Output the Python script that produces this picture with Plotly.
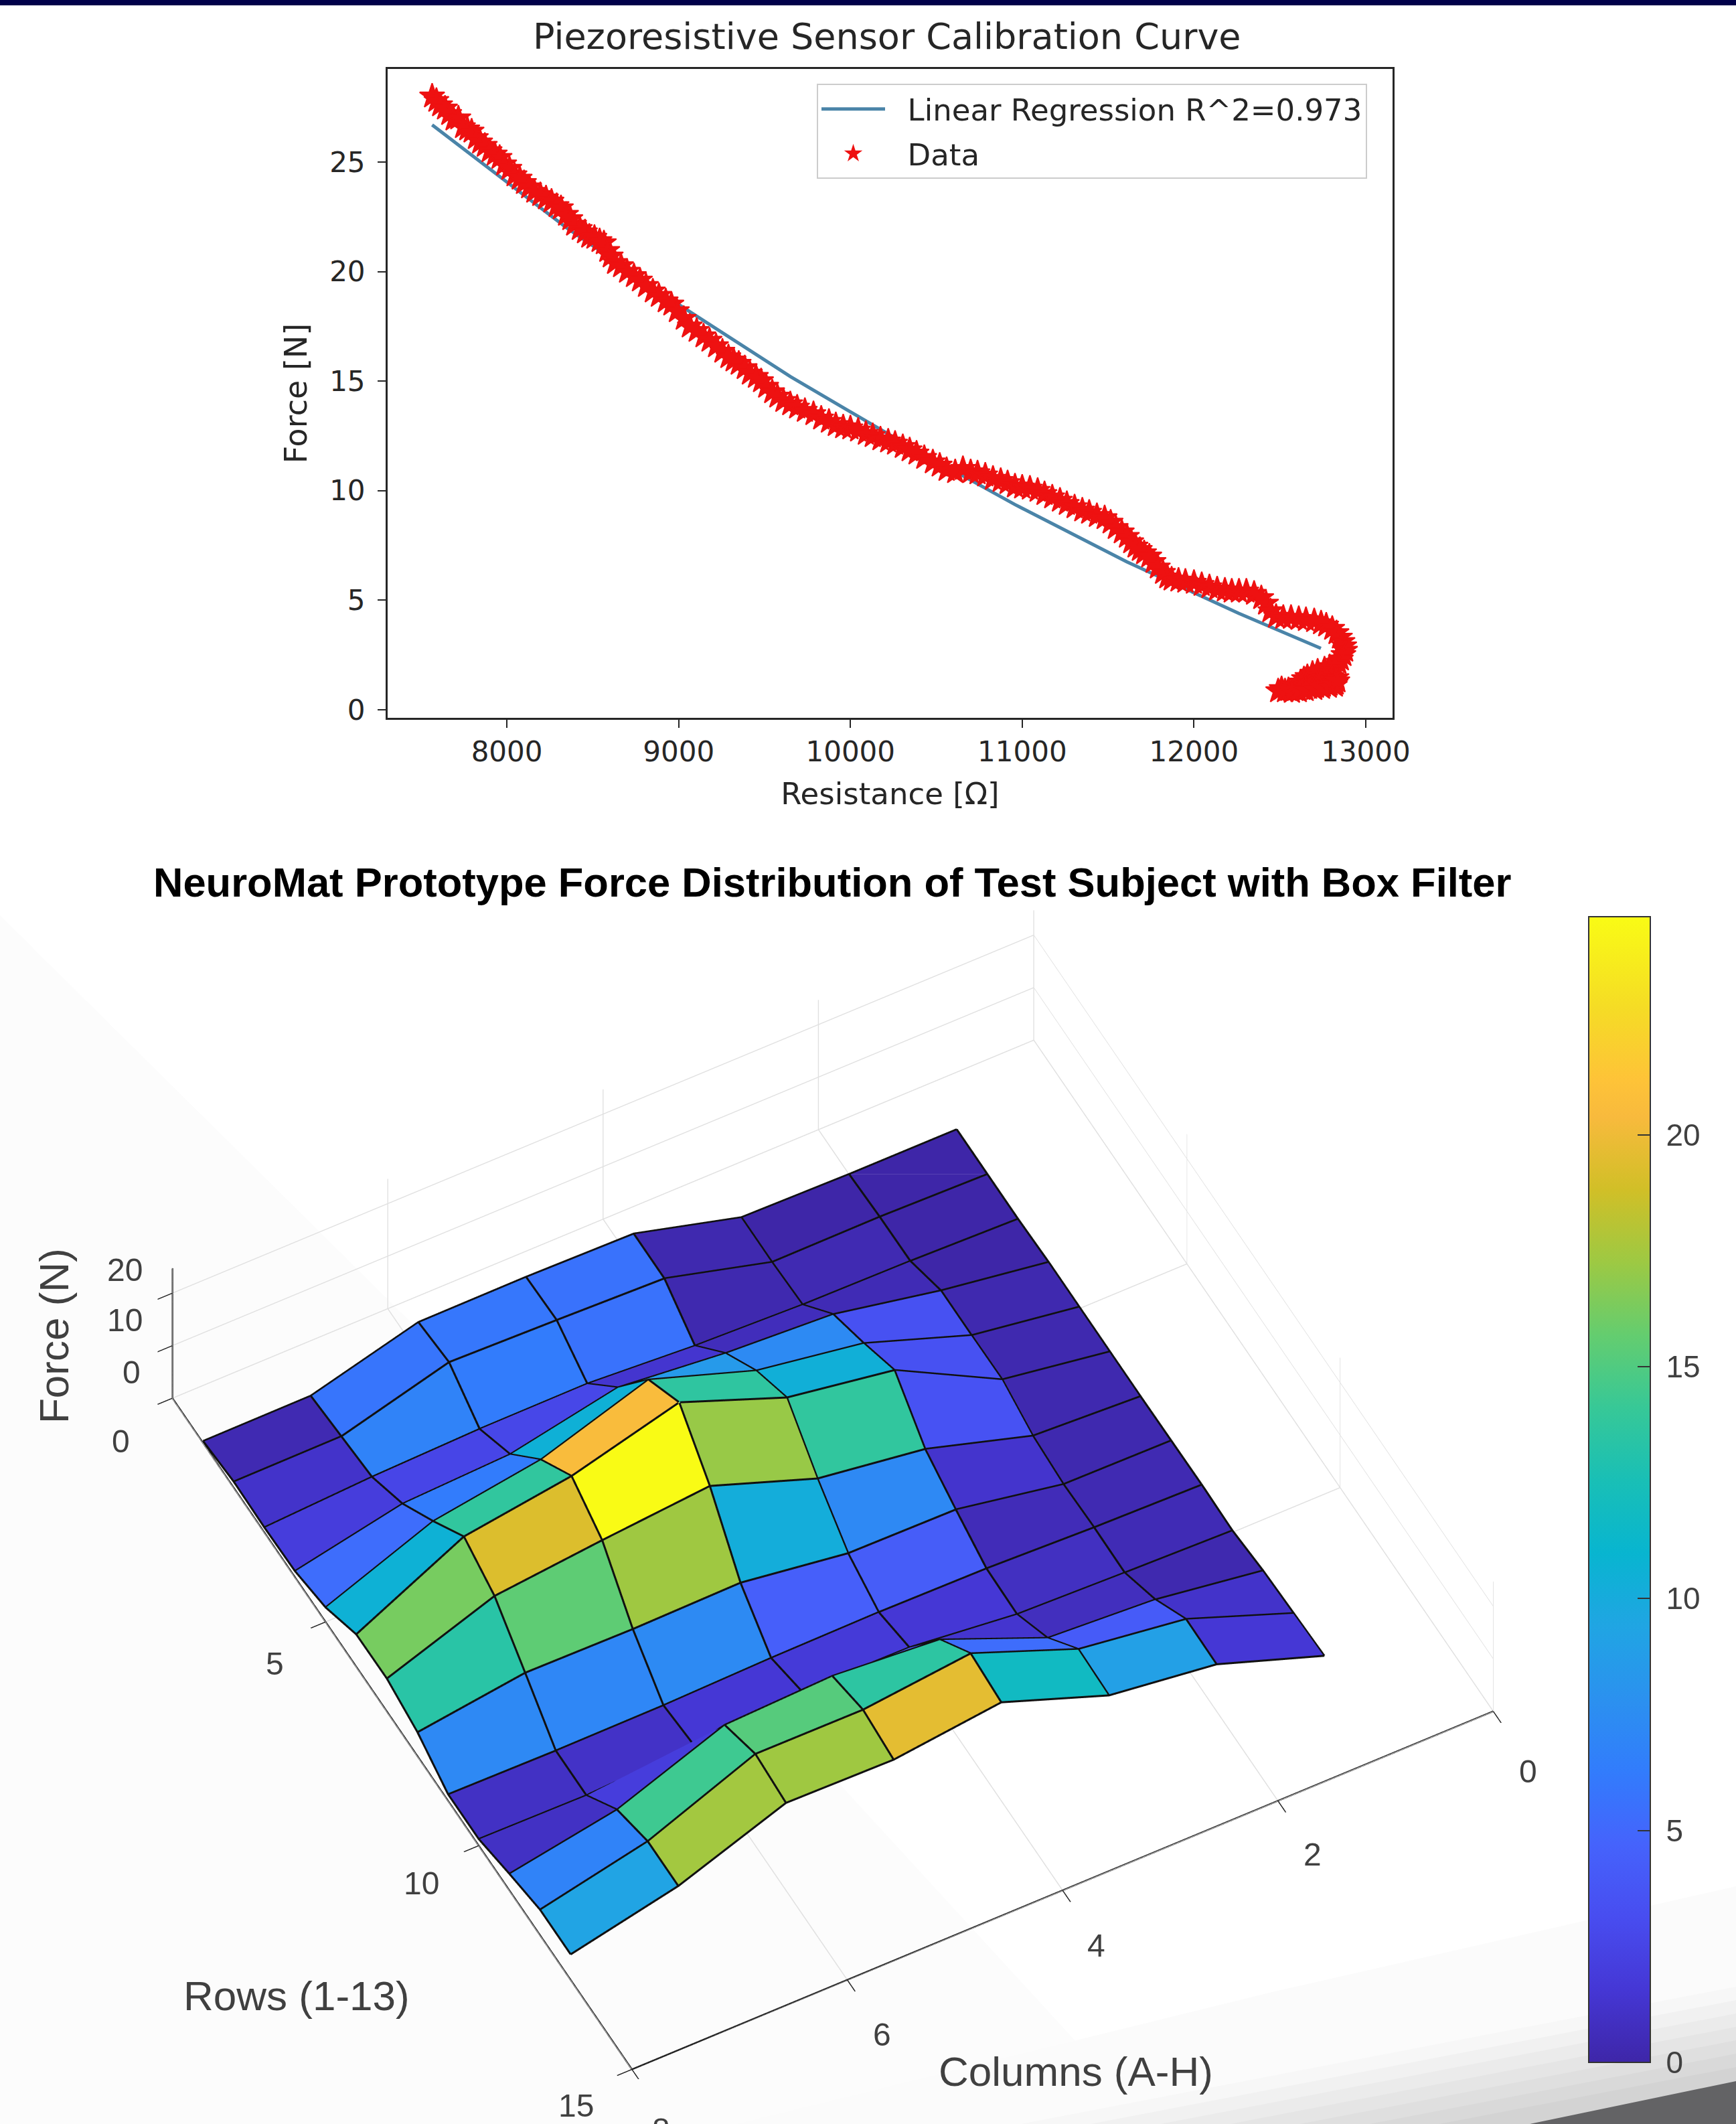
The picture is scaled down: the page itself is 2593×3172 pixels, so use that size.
import plotly.graph_objects as go

W, H = 2593, 3172

# ---- calibration curve data ----
resistance = [
    7565,7590,7612,7640,7665,7690,7718,7745,7770,7795,
    7820,7845,7872,7900,7930,7958,7985,8015,8045,8075,
    8100,8130,8160,8195,8228,8260,8290,8315,8345,8370,
    8392,8425,8455,8480,8510,8540,8565,8585,8605,8630,
    8665,8700,8740,8775,8810,8850,8885,8925,8958,8990,
    9030,9065,9105,9145,9180,9218,9255,9290,9320,9350,
    9385,9415,9450,9480,9510,9545,9575,9610,9650,9690,
    9735,9785,9830,9875,9915,9958,10000,10045,10090,10130,
    10175,10220,10260,10305,10345,10385,10430,10480,10520,10560,
    10610,10655,10700,10740,10785,10830,10875,10915,10958,11000,
    11045,11090,11130,11175,11220,11260,11305,11350,11390,11435,
    11480,11515,11545,11580,11610,11635,11660,11685,11710,11740,
    11765,11790,11820,11845,11870,11910,11950,12000,12045,12090,
    12135,12180,12220,12262,12305,12350,12392,12420,12445,12478,
    12520,12565,12610,12652,12700,12740,12770,12805,12830,12850,
    12865,12875,12880,12870,12855,12840,12820,12790,12760,12720,
    12690,12660,12640,12620,12600,12640,12680,12720,12760,12800,
    12830,12825,12790,12750,12710,12670,12630,12590,12550,12510,
    12490,12530,12570,12610,12650,12700,12745,12785,12820,12835,
]
force = [
    28.0,27.8,27.6,27.45,27.2,26.95,27.0,26.6,26.5,26.4,
    26.1,25.9,25.75,25.5,25.35,25.2,24.9,24.7,24.4,24.25,
    24.05,23.85,23.65,23.5,23.35,23.2,23.0,22.9,22.6,22.4,
    22.15,21.95,21.8,21.6,21.55,21.4,21.3,20.95,20.7,20.4,
    20.25,20.0,19.8,19.6,19.35,19.1,18.9,18.65,18.5,18.2,
    17.85,17.5,17.3,17.05,16.85,16.6,16.35,16.1,15.95,15.8,
    15.6,15.35,15.2,15.0,14.75,14.5,14.3,14.1,13.95,13.8,
    13.65,13.5,13.3,13.15,13.0,12.9,12.85,12.75,12.6,12.5,
    12.35,12.25,12.15,12.0,11.85,11.7,11.5,11.3,11.15,10.95,
    10.85,11.0,10.85,10.8,10.7,10.55,10.45,10.35,10.2,10.15,
    10.1,10.0,9.85,9.7,9.55,9.4,9.25,9.1,9.0,8.85,
    8.75,8.55,8.3,8.1,7.9,7.65,7.45,7.3,7.15,7.0,
    6.75,6.5,6.25,6.05,5.95,5.9,5.85,5.8,5.7,5.6,
    5.5,5.45,5.4,5.4,5.4,5.3,5.1,4.85,4.5,4.25,
    4.2,4.2,4.15,4.1,4.05,3.95,3.85,3.7,3.5,3.3,
    3.1,2.9,2.7,2.5,2.3,2.15,2.05,1.95,1.85,1.75,
    1.65,1.5,1.4,1.25,1.1,1.0,1.15,1.3,1.4,1.5,
    1.45,1.2,1.15,1.1,1.05,1.0,0.95,0.9,0.9,0.95,
    0.85,0.85,0.82,0.85,0.9,0.95,1.0,1.05,1.1,1.3,
]
fit_resistance = [7565, 7913, 8348, 9000, 9652, 10304, 10957, 11609, 12261, 12739]
fit_force = [26.7, 24.6, 22.0, 18.5, 15.2, 12.2, 9.37, 6.75, 4.4, 2.8]

# ---- force map: rows 1..13 (top to bottom), columns 8..1 (left to right) ----
columns = [8, 7, 6, 5, 4, 3, 2, 1]
rows = list(range(1, 14))
force_map = [
    [0.3, 0.4, 5.9, 6.0, 5.7, 0.3, 0.0, 0.0],
    [1.1, 1.2, 6.8, 6.3, 5.7, 0.3, 0.4, 0.0],
    [0.9, 2.0, 2.6, 2.7, 1.4, 0.7, 0.5, 0.0],
    [1.1, 5.4, 6.3, 10.5, 8.5, 7.4, 3.4, 0.3],
    [2.7, 10.6, 13.8, 20.5, 13.7, 10.4, 3.4, 0.3],
    [6.1, 16.2, 19.2, 24.7, 17.1, 13.8, 3.5, 0.3],
    [6.2, 13.4, 15.5, 17.3, 10.2, 7.3, 1.3, 0.3],
    [4.5, 7.3, 7.1, 7.4, 4.5, 4.3, 0.6, 0.4],
    [1.2, 1.0, 1.1, 1.6, 1.8, 1.6, 0.9, 0.5],
    [1.2, 1.0, 2.0, 3.8, 3.6, 1.4, 0.8, 0.3],
    [3.1, 6.8, 14.4, 15.2, 13.6, 5.4, 4.2, 1.2],
    [4.8, 9.3, 17.4, 17.3, 19.5, 11.8, 9.0, 1.6],
    [4.8, 9.3, 16.6, 16.3, 18.7, 11.5, 8.9, 2.0],
]
colorbar_ticks = [0, 5, 10, 15, 20]

parula = [
    [0/63, "rgb(62,38,168)"], [4/63, "rgb(69,55,213)"], [8/63, "rgb(72,77,240)"],
    [12/63, "rgb(69,99,252)"], [16/63, "rgb(50,124,252)"], [20/63, "rgb(43,145,239)"],
    [24/63, "rgb(32,165,227)"], [28/63, "rgb(8,181,208)"], [32/63, "rgb(25,191,182)"],
    [36/63, "rgb(55,200,151)"], [40/63, "rgb(100,205,111)"], [44/63, "rgb(157,201,67)"],
    [48/63, "rgb(209,191,39)"], [52/63, "rgb(248,186,61)"], [54/63, "rgb(254,195,56)"],
    [58/63, "rgb(245,220,37)"], [63/63, "rgb(249,251,21)"],
]

nr, nc = len(rows), len(columns)
vx, vy, vz = [], [], []
for r in range(nr):
    for c in range(nc):
        vx.append(columns[c]); vy.append(rows[r]); vz.append(force_map[r][c])
ti, tj, tk, cell = [], [], [], []
for r in range(nr - 1):
    for c in range(nc - 1):
        a = r * nc + c; b = a + 1; d = a + nc; e = d + 1
        val = force_map[r][c + 1]
        ti += [a, a]; tj += [b, e]; tk += [e, d]; cell += [val, val]

lx, ly, lz = [], [], []
LIFT = 0.06
for r in range(nr):
    for c in range(nc):
        lx.append(columns[c]); ly.append(rows[r]); lz.append(force_map[r][c] + LIFT)
    lx.append(None); ly.append(None); lz.append(None)
for c in range(nc):
    for r in range(nr):
        lx.append(columns[c]); ly.append(rows[r]); lz.append(force_map[r][c] + LIFT)
    lx.append(None); ly.append(None); lz.append(None)

fig = go.Figure()
fig.add_trace(go.Scatter(x=fit_resistance, y=fit_force, mode="lines", name="\u00a0\u00a0Linear Regression R^2=0.973",
                         legendgroup="fit", line=dict(color="#4a84a8", width=5), xaxis="x", yaxis="y"))
fig.add_trace(go.Scatter(x=resistance, y=force, mode="markers", name="\u00a0\u00a0Data", legendgroup="data",
                         marker=dict(symbol="star", size=28, color="#ee1111", line=dict(width=2, color="#ee1111")),
                         xaxis="x", yaxis="y"))
fig.add_trace(go.Mesh3d(x=vx, y=vy, z=vz, i=ti, j=tj, k=tk, intensity=cell, intensitymode="cell",
                        colorscale=parula, cmin=0, cmax=24.7, flatshading=True, showlegend=False,
                        lighting=dict(ambient=1, diffuse=0, specular=0, roughness=1, fresnel=0),
                        scene="scene",
                        colorbar=dict(lenmode="pixels", len=1711, thicknessmode="pixels", thickness=92,
                                      x=2373/W, xanchor="left", y=1-3080/H, yanchor="bottom",
                                      tickmode="array", tickvals=colorbar_ticks,
                                      ticktext=["\u00a0" + str(t) for t in colorbar_ticks],
                                      ticks="inside", ticklen=20, tickwidth=2,
                                      tickcolor="#333333", outlinecolor="#333333", outlinewidth=2,
                                      xpad=0, ypad=0,
                                      tickfont=dict(family="Liberation Sans", size=46, color="#404040"))))
fig.add_trace(go.Scatter3d(x=lx, y=ly, z=lz, mode="lines", line=dict(color="#101010", width=6),
                           showlegend=False, scene="scene", connectgaps=False))

def px(x, y):
    return f"{x/W:.5f} {1-y/H:.5f}"
def poly(points, color):
    path = "M " + " L ".join(px(*p) for p in points) + " Z"
    return dict(type="path", path=path, xref="paper", yref="paper", fillcolor=color,
                line=dict(width=0), layer="below")

shapes = [
    poly([(0,1367),(700,2060),(1720,3172),(0,3172)], "#fcfcfc"),
    poly([(1100,3172),(1900,2975),(2593,2817),(2593,3172)], "#fbfbfb"),
]
for d, shade in zip([0,20,40,60,80,100,120], ["#f7f7f7","#f1f1f1","#ebebeb","#e5e5e5","#dfdfdf","#d9d9d9","#d3d3d3"]):
    shapes.append(poly([(1900+(3100+d-3172)/0.192,3172),(2593,2967+d),(2593,3172)], shade))
shapes += [
    poly([(2285,3172),(2593,3108),(2593,3172)], "#636365"),
    dict(type="rect", xref="paper", yref="paper", x0=0, x1=1, y0=1-8/H, y1=1,
         fillcolor="#00004a", line=dict(width=0), layer="below"),
]

def ann(text, x, y, size, family, color, bold=False, angle=0):
    return dict(text=f"<b>{text}</b>" if bold else text, x=x/W, y=1-y/H, xref="paper", yref="paper",
                xanchor="center", yanchor="middle", showarrow=False, textangle=angle,
                font=dict(family=family, size=size, color=color))

annotations = [
    ann("Piezoresistive Sensor Calibration Curve", 1325, 54, 54, "DejaVu Sans", "#262626"),
    ann("NeuroMat Prototype Force Distribution of Test Subject with Box Filter", 1243, 1317, 61.5, "Liberation Sans", "#000000", bold=True),
    ann("Rows (1-13)", 443, 2980, 62, "Liberation Sans", "#404040"),
    ann("Columns (A-H)", 1607, 3093, 62, "Liberation Sans", "#404040"),
    ann("Force (N)", 80, 1995, 62, "Liberation Sans", "#404040", angle=-90),
]

col_ticks = [0, 2, 4, 6, 8]
row_ticks = [0, 5, 10, 15]
z_ticks = [0, 10, 20]
def tick3d(x, y, z, text, dx, dy):
    return dict(x=x, y=y, z=z, text=text, showarrow=False, xanchor="center", yanchor="middle",
                xshift=dx, yshift=-dy, font=dict(family="Liberation Sans", size=48, color="#404040"))
scene_ann = []
for c, dx, dy in zip(col_ticks, [52,52,50,52,44], [90,80,82,82,90]):
    scene_ann.append(tick3d(c, 15, 0, str(c), dx, dy))
for r, dx, dy in zip(row_ticks, [-77,-76,-86,-83], [64,62,56,54]):
    scene_ann.append(tick3d(8, r, 0, str(r), dx, dy))
for z, dx, dy in zip(z_ticks, [-61,-71,-71], [-39,-38,-35]):
    scene_ann.append(tick3d(8, 0, z, str(z), dx, dy))

ax3 = dict(showbackground=False, showgrid=True, gridcolor="#e0e0e0", gridwidth=3, zeroline=False,
           showline=True, linecolor="#222222", linewidth=5, ticks="outside", ticklen=25, tickwidth=3,
           tickcolor="#222222", title=dict(text=""), showspikes=False, showticklabels=False)

E = 0.964
SCALE = 1.657
fig.update_layout(
    width=W, height=H, margin=dict(l=0, r=0, t=0, b=0), paper_bgcolor="#ffffff", plot_bgcolor="#ffffff",
    shapes=shapes, annotations=annotations,
    legend=dict(x=1220/W, xanchor="left", y=1-125/H, yanchor="top", bgcolor="rgba(255,255,255,0.9)",
                bordercolor="#cccccc", borderwidth=2, itemwidth=95, itemsizing="trace",
                entrywidth=728, entrywidthmode="pixels", tracegroupgap=5,
                font=dict(family="DejaVu Sans", size=45, color="#262626")),
    xaxis=dict(domain=[579/W, 2080/W], range=[7306, 13156], tickvals=[8000,9000,10000,11000,12000,13000],
               tickformat="d", automargin=False,
               ticks="outside", ticklen=12, tickwidth=2, tickcolor="#262626", showline=True, mirror=True,
               linecolor="#262626", linewidth=3, showgrid=False, zeroline=False, anchor="y",
               tickfont=dict(family="DejaVu Sans", size=42, color="#262626"),
               title=dict(text="Resistance [Ω]", standoff=24, font=dict(family="DejaVu Sans", size=45, color="#262626"))),
    yaxis=dict(domain=[1-1072/H, 1-103/H], range=[-0.37, 29.25], tickvals=[0,5,10,15,20,25], automargin=False,
               ticks="outside", ticklen=12, tickwidth=2, tickcolor="#262626", showline=True, mirror=True,
               linecolor="#262626", linewidth=3, showgrid=False, zeroline=False, anchor="x",
               ticklabelstandoff=10,
               tickfont=dict(family="DejaVu Sans", size=42, color="#262626"),
               title=dict(text="Force [N]", standoff=20, font=dict(family="DejaVu Sans", size=46, color="#262626"))),
    scene=dict(
        domain=dict(x=[0, 2488/W], y=[1-3105/H, 1-1345/H]),
        aspectmode="manual", aspectratio=dict(x=SCALE, y=SCALE, z=0.212*SCALE),
        camera=dict(projection=dict(type="orthographic"), up=dict(x=0, y=0, z=1),
                    center=dict(x=0, y=0, z=0), eye=dict(x=0.295*E, y=0.553*E, z=0.779*E)),
        xaxis=dict(ax3, range=[0, 8], tickvals=col_ticks),
        yaxis=dict(ax3, range=[0, 15], tickvals=row_ticks),
        zaxis=dict(ax3, range=[0, 24.7], tickvals=z_ticks),
        bgcolor="rgba(0,0,0,0)",
        annotations=scene_ann,
    ),
)
fig.write_html("out.html", post_script="document.body.style.margin='0';", config=dict(displayModeBar=False))
